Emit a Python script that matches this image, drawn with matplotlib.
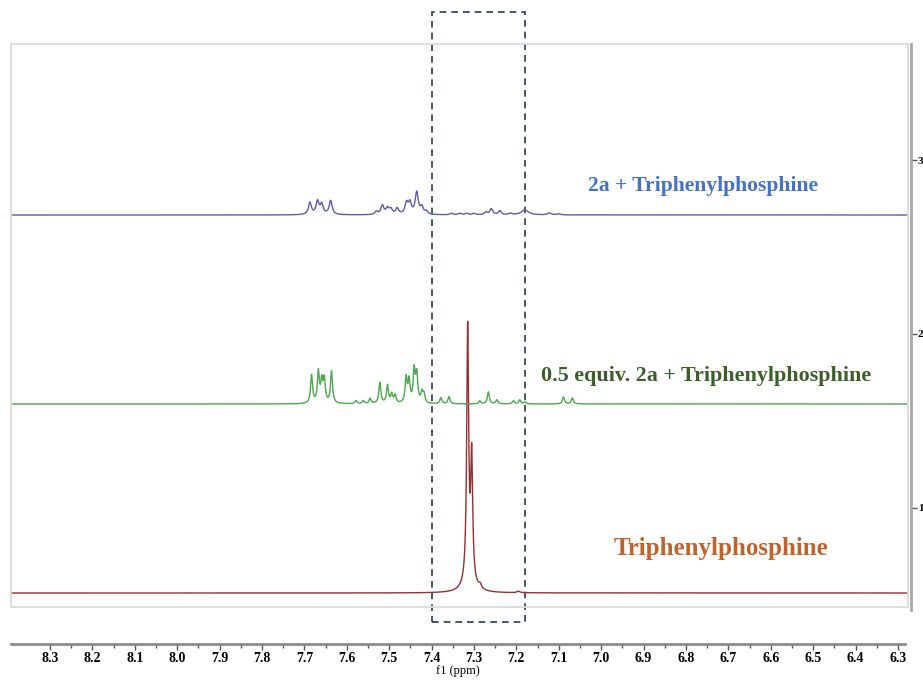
import numpy as np
import matplotlib.pyplot as plt
from matplotlib.patches import Rectangle
from matplotlib.transforms import blended_transform_factory

W, H = 923, 680
plt.rcParams['font.family'] = 'Liberation Serif'
plt.rcParams['font.weight'] = 'bold'

#picos de cada espectro: desplazamiento (ppm), altura, semiancho (ppm)--------
ppm_tpp = [7.3149, 7.3054, 7.311, 7.2855, 7.195]
alt_tpp = [250, 120, 14, 4, 1.5]
anc_tpp = [0.0027, 0.0027, 0.012, 0.0035, 0.004]

ppm_mezcla = [7.683, 7.667, 7.659, 7.653, 7.636, 7.578, 7.561, 7.545,
              7.522, 7.504, 7.494, 7.486, 7.460, 7.453, 7.441, 7.435,
              7.423, 7.418, 7.378, 7.359, 7.286, 7.266, 7.246, 7.207,
              7.192, 7.180, 7.089, 7.068]
alt_mezcla = [28, 31, 21, 23, 32, 3, 3, 5,
              21, 18, 9, 8, 25, 22, 32, 28,
              10, 9, 6, 7, 3, 12, 4, 3,
              4, 2, 7, 6]
anc_mezcla = [0.0028] * len(ppm_mezcla)

ppm_2a = [7.687, 7.669, 7.659, 7.638, 7.530, 7.516, 7.504, 7.496,
          7.481, 7.459, 7.451, 7.435, 7.423, 7.412, 7.353, 7.333,
          7.317, 7.300, 7.272, 7.259, 7.239, 7.214, 7.180, 7.122, 7.100]
alt_2a = [12, 13, 10, 14, 3, 9, 6, 5,
          6, 11, 11, 22, 7, 3, 1.5, 1.5,
          1.5, 1.5, 2.5, 6, 4, 1.5, 5, 2, 1]
anc_2a = [0.0042] * 22 + [0.010, 0.005, 0.005]

etiquetas = ['2a + Triphenylphosphine', '0.5 equiv. 2a + Triphenylphosphine',
             'Triphenylphosphine']
ticks_ppm = np.round(np.arange(6.3, 8.31, 0.1), 1)
ticks_int = [1, 2, 3]
#-----------------------------------------------------------------------------

def lorentz(x, p, h, w):
    return h * w**2 / ((x - p)**2 + w**2)

def espectro(x, pos, alt, anc):
    y = np.zeros_like(x)
    for p, h, w in zip(pos, alt, anc):
        y += lorentz(x, p, h, w)
    return y

def px2ppm(px):
    return 8.3 - (px - 50) / 424.0

fig = plt.figure(figsize=(W / 100, H / 100), dpi=100)

# area de espectros (marco gris claro)
ax = fig.add_axes([11 / W, 1 - 607 / H, 897 / W, 563 / H])
ax.set_xlim(px2ppm(11), px2ppm(908))
ax.set_ylim(0, 563)
ax.set_xticks([])
ax.set_yticks([])
for s in ax.spines.values():
    s.set_color('#dadada')
    s.set_linewidth(1.3)

x = np.arange(px2ppm(908), px2ppm(11), 0.0002)
ax.plot(x, 14 + espectro(x, ppm_tpp, alt_tpp, anc_tpp), color='#962f2f', lw=1.0)
ax.plot(x, 203 + espectro(x, ppm_mezcla, alt_mezcla, anc_mezcla), color='#4ea84e', lw=1.0)
ax.plot(x, 392 + espectro(x, ppm_2a, alt_2a, anc_2a), color='#5c5cab', lw=1.0)

# rectangulo punteado
tr = blended_transform_factory(ax.transData, fig.transFigure)
rect = Rectangle((7.40, 1 - 622 / H), 7.18 - 7.40, 610 / H, transform=tr,
                 fill=False, edgecolor='#2b3950', lw=1.2, ls=(0, (4, 3)),
                 clip_on=False)
ax.add_patch(rect)

# etiquetas
fig.text(703 / W, 1 - 186 / H, etiquetas[0], color='#4472c4', fontsize=15.6,
         ha='center', va='center')
fig.text(706 / W, 1 - 376 / H, etiquetas[1], color='#3b5e2b', fontsize=15.8,
         ha='center', va='center')
fig.text(721 / W, 1 - 549 / H, etiquetas[2], color='#c3622a', fontsize=18,
         ha='center', va='center')

# eje inferior en ppm
ax2 = fig.add_axes([11 / W, 1 - 644 / H, 894 / W, 0.0001])
ax2.set_xlim(px2ppm(11), px2ppm(905))
ax2.patch.set_visible(False)
for k in ['top', 'left', 'right']:
    ax2.spines[k].set_visible(False)
ax2.spines['bottom'].set_color('#8c8c8c')
ax2.spines['bottom'].set_linewidth(2)
ax2.set_yticks([])
ax2.set_xticks(ticks_ppm)
ax2.set_xticklabels(['%.1f' % t for t in ticks_ppm], fontsize=10)
ax2.set_xticks(np.round(ticks_ppm[:-1] + 0.05, 2), minor=True)
ax2.tick_params(axis='x', which='major', length=4, width=1, color='#555555', pad=1.5)
ax2.tick_params(axis='x', which='minor', length=3, width=1, color='#555555')
ax2.set_xlabel('f1 (ppm)', fontsize=9, labelpad=0)

# eje derecho de intensidad (recortado como en el original)
ax3 = fig.add_axes([910 / W, 1 - 610 / H, 1 / W, 566 / H])
ax3.patch.set_visible(False)
for k in ['top', 'left', 'bottom']:
    ax3.spines[k].set_visible(False)
ax3.spines['right'].set_color('#a8a8a8')
ax3.spines['right'].set_linewidth(2)
ax3.set_xticks([])
ax3.set_ylim(0.41, 3.67)
ax3.yaxis.tick_right()
ax3.set_yticks(ticks_int)
ax3.set_yticklabels([str(t) for t in ticks_int], fontsize=8)
ax3.tick_params(axis='y', length=4, width=1, color='#555555', pad=1)

fig.savefig('out.png', dpi=100)
